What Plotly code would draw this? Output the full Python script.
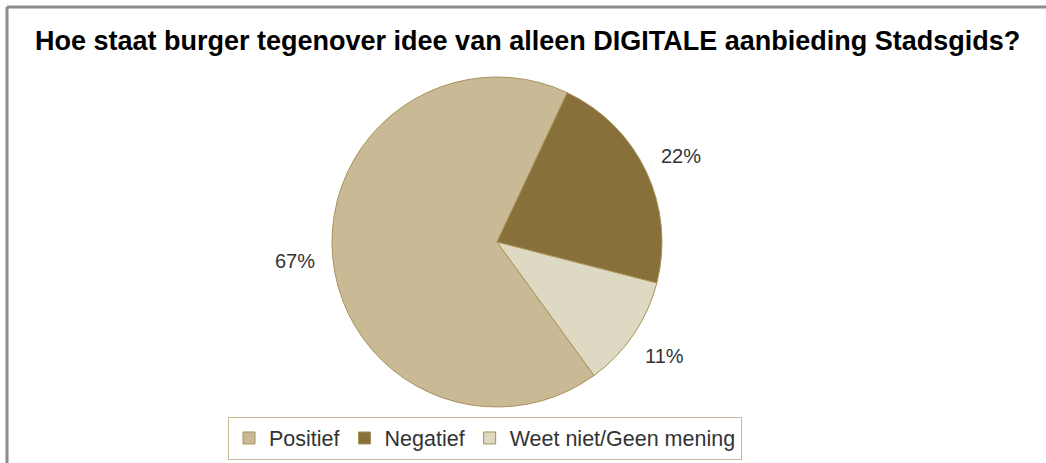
import math
import plotly.graph_objects as go

# Survey answers and their shares (percent)
labels = ["Positief", "Negatief", "Weet niet/Geen mening"]
values = [67, 22, 11]
colors = ["#C9B994", "#87703A", "#DDD9C3"]

title_text = "Hoe staat burger tegenover idee van alleen DIGITALE aanbieding Stadsgids?"

W, H = 1046, 463
# pie placement in pixels (centre and radius)
cx, cy, rad = 497, 242, 165
start_angle = 144  # degrees clockwise from 12 o'clock where the first slice begins


def px(x):
    return x / W


def py(y):
    return 1 - y / H


fig = go.Figure()
fig.add_trace(go.Pie(
    labels=labels,
    values=values,
    sort=False,
    direction="clockwise",
    rotation=start_angle,
    marker=dict(colors=colors, line=dict(color="#A8925A", width=1)),
    textinfo="none",
    hoverinfo="label+percent",
    domain=dict(x=[px(cx - rad), px(cx + rad)], y=[py(cy + rad), py(cy - rad)]),
))

# percentage labels placed outside each slice, at the slice's mid angle
total = sum(values)
acc = 0
annotations = []
for v in values:
    mid = start_angle + (acc + v / 2) / total * 360
    acc += v
    a = math.radians(mid)
    lx = cx + 1.23 * rad * math.sin(a)
    ly = cy - 1.23 * rad * math.cos(a)
    annotations.append(dict(
        x=px(lx), y=py(ly), xref="paper", yref="paper",
        text=f"{round(v / total * 100)}%", showarrow=False,
        xanchor="center", yanchor="middle",
        font=dict(family="Liberation Sans, Arial", size=20, color="#333333"),
    ))

annotations.append(dict(
    x=px(527), y=py(41), xref="paper", yref="paper",
    text=f"<b>{title_text}</b>",
    showarrow=False, xanchor="center", yanchor="middle",
    font=dict(family="Liberation Sans, Arial", size=27, color="#000000"),
))

# outer chart frame (top and left edges)
shapes = [
    dict(type="line", xref="paper", yref="paper", x0=px(7), x1=1.01, y0=py(7), y1=py(7),
         line=dict(color="#8C8C8C", width=3)),
    dict(type="line", xref="paper", yref="paper", x0=px(7), x1=px(7), y0=py(7), y1=-0.01,
         line=dict(color="#8C8C8C", width=3)),
]

fig.update_layout(
    width=W, height=H,
    margin=dict(l=0, r=0, t=0, b=0),
    paper_bgcolor="white",
    plot_bgcolor="white",
    annotations=annotations,
    shapes=shapes,
    showlegend=True,
    legend=dict(
        orientation="h",
        x=px(485), xanchor="center",
        y=py(438), yanchor="middle",
        bordercolor="#C9B994", borderwidth=1,
        font=dict(family="Liberation Sans, Arial", size=21.5, color="#333333"),
        traceorder="normal",
    ),
)

fig.write_html("out.html")
